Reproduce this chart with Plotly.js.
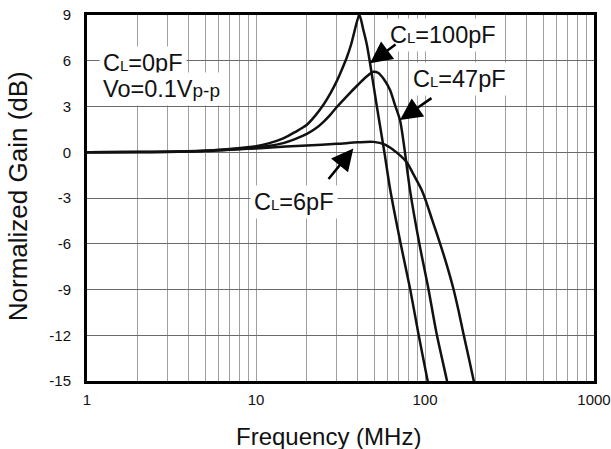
<!DOCTYPE html>
<html>
<head>
<meta charset="utf-8">
<script src="https://cdn.plot.ly/plotly-3.0.1.min.js"></script>
<style>html,body{margin:0;padding:0;background:#fff;}#chart{width:611px;height:449px;}</style>
</head>
<body>
<div id="chart"></div>
<script>
// Frequency (MHz) and normalized gain (dB)
const freq100 = [1, 2, 3, 5, 7, 10, 12, 14.5, 17, 20, 22.5, 25, 27.5, 30, 32, 34.4, 36.5, 38, 40.9, 43, 45.2, 47.2, 51.9, 57.5, 62.3, 71.7, 81.5, 91.3, 103, 106];
const gain100 = [0, 0.01, 0.03, 0.1, 0.22, 0.4, 0.6, 0.91, 1.32, 1.8, 2.42, 3.1, 3.85, 4.65, 5.35, 6.2, 7.05, 7.8, 9.0, 8.1, 7.1, 5.9, 3.0, 0, -2.48, -5.97, -8.92, -11.87, -14.83, -15.5];

const freq47 = [1, 2, 3, 5, 7, 10, 12, 14.5, 17, 20, 22.5, 25, 27.5, 30, 35, 40, 45, 49.5, 53, 57, 62.1, 66.4, 71.1, 75, 81.5, 92.5, 104.6, 117, 134, 138];
const gain47 = [0, 0.01, 0.02, 0.08, 0.17, 0.3, 0.42, 0.6, 0.86, 1.2, 1.55, 1.98, 2.45, 2.95, 3.75, 4.41, 4.95, 5.28, 5.2, 4.8, 4.08, 3.1, 2.11, 0.5, -2.48, -5.97, -8.92, -11.87, -14.83, -15.5];

const freq6 = [1, 2, 3, 5, 8, 10, 15, 20, 30, 40, 49.5, 58, 65, 72, 78, 85, 95.6, 102, 110, 122.7, 135, 147, 158, 168.6, 193, 198];
const gain6 = [0, 0.01, 0.03, 0.1, 0.2, 0.25, 0.38, 0.45, 0.55, 0.65, 0.68, 0.5, 0.15, -0.25, -0.65, -1.4, -2.48, -3.3, -4.4, -5.97, -7.45, -8.92, -10.4, -11.87, -14.83, -15.5];

const yTicks = [-15, -12, -9, -6, -3, 0, 3, 6, 9];
const xDecades = [1, 10, 100, 1000];
const xDecadeLabels = ["1", "10", "100", "1000"];

const xGrid = [];
const xGridText = [];
for (let d = 0; d < 3; d++) {
  for (let m = 1; m <= 9; m++) {
    const v = m * Math.pow(10, d);
    xGrid.push(v);
    const idx = xDecades.indexOf(v);
    xGridText.push(idx >= 0 ? xDecadeLabels[idx] : "");
  }
}
xGrid.push(1000); xGridText.push("1000");

const FONT = "Liberation Sans, Arial, sans-serif";
const lineStyle = {color: "#111111", width: 2.5, shape: "spline", smoothing: 0.8};

const traces = [
  {x: freq100, y: gain100, mode: "lines", line: lineStyle, name: "CL=100pF", hoverinfo: "skip"},
  {x: freq47, y: gain47, mode: "lines", line: lineStyle, name: "CL=47pF", hoverinfo: "skip"},
  {x: freq6, y: gain6, mode: "lines", line: lineStyle, name: "CL=6pF", hoverinfo: "skip"}
];

const Ls = '<span style="font-size:15px">L</span>';
const pp = '<span style="font-size:19px">p-p</span>';
const ANN_FONT = {size: 23.5, family: FONT, color: "#111"};

const arrowCommon = {xref: "x", yref: "y", axref: "pixel", ayref: "pixel", text: "", showarrow: true,
  arrowhead: 2, arrowsize: 1.75, arrowwidth: 2.5, arrowcolor: "#000"};

const layout = {
  width: 611, height: 449,
  margin: {l: 87, r: 17, t: 15, b: 68},
  paper_bgcolor: "#ffffff", plot_bgcolor: "#ffffff",
  showlegend: false,
  font: {family: FONT, color: "#111"},
  xaxis: {
    type: "log", range: [0, 3],
    tickmode: "array", tickvals: xGrid, ticktext: xGridText,
    ticks: "outside", ticklen: 3, tickcolor: "rgba(0,0,0,0)",
    tickfont: {size: 15, family: FONT, color: "#111"},
    showgrid: true, gridcolor: "#a0a0a0", gridwidth: 1,
    showline: true, linecolor: "#000", linewidth: 3, mirror: true,
    zeroline: false
  },
  yaxis: {
    range: [-15, 9],
    tickmode: "array", tickvals: yTicks, ticktext: yTicks.map(String),
    ticks: "outside", ticklen: 10, tickcolor: "rgba(0,0,0,0)",
    tickfont: {size: 15, family: FONT, color: "#111"},
    showgrid: true, gridcolor: "#6a6a6a", gridwidth: 1,
    showline: true, linecolor: "#000", linewidth: 3, mirror: true,
    zeroline: false
  },
  annotations: [
    // axis titles
    {xref: "paper", yref: "paper", x: 0.477, y: -0.153, xanchor: "center", yanchor: "middle",
     showarrow: false, text: "Frequency (MHz)", font: {size: 24, family: FONT, color: "#111"}},
    {xref: "paper", yref: "paper", x: -0.136, y: 0.505, xanchor: "center", yanchor: "middle",
     showarrow: false, textangle: -90, text: "Normalized Gain (dB)", font: {size: 26, family: FONT, color: "#111"}},
    // labels
    {xref: "paper", yref: "paper", x: 0.024, y: 0.868, xanchor: "left", yanchor: "middle", align: "left",
     showarrow: false, bgcolor: "#ffffff", borderpad: 3,
     text: "C" + Ls + "=0pF", font: ANN_FONT},
    {xref: "paper", yref: "paper", x: 0.024, y: 0.798, xanchor: "left", yanchor: "middle", align: "left",
     showarrow: false, bgcolor: "#ffffff", borderpad: 3,
     text: "Vo=0.1V" + pp, font: ANN_FONT},
    {xref: "paper", yref: "paper", x: 0.589, y: 0.945, xanchor: "left", yanchor: "middle",
     showarrow: false, bgcolor: "#ffffff", borderpad: 3,
     text: "C" + Ls + "=100pF", font: ANN_FONT},
    {xref: "paper", yref: "paper", x: 0.635, y: 0.825, xanchor: "left", yanchor: "middle",
     showarrow: false, bgcolor: "#ffffff", borderpad: 3,
     text: "C" + Ls + "=47pF", font: ANN_FONT},
    {xref: "paper", yref: "paper", x: 0.322, y: 0.489, xanchor: "left", yanchor: "middle",
     showarrow: false, bgcolor: "#ffffff", borderpad: 3,
     text: "C" + Ls + "=6pF", font: ANN_FONT},
    Object.assign({x: 1.6746, y: 5.83, ax: 27, ay: -20}, arrowCommon),
    Object.assign({x: 1.852, y: 2.11, ax: 33, ay: -23}, arrowCommon),
    Object.assign({x: 1.576, y: 0.25, ax: -26, ay: 32}, arrowCommon)
  ]
};

Plotly.newPlot("chart", traces, layout, {displayModeBar: false, staticPlot: true});
</script>
</body>
</html>
